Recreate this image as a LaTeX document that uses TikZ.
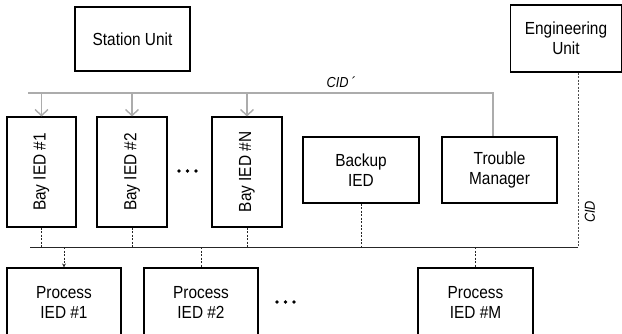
\documentclass[tikz,border=0pt]{standalone}
\usepackage{fontspec}
\setmainfont{Liberation Sans}
\newfontfamily\boxfont[FakeStretch=0.88]{Liberation Sans}
\usetikzlibrary{arrows.meta}
\begin{document}
\begin{tikzpicture}[x=1pt,y=-1pt,
  box/.style={draw=black,line width=1.1pt,inner sep=0pt,align=center,
    font=\boxfont\fontsize{17.5}{20}\selectfont},
  cidbus/.style={draw=gray!65,line width=2pt},
  cidarrow/.style={draw=gray!65,line width=1.6pt,-{Straight Barb[length=6pt,width=13pt,line width=1.4pt]}},
  lanbus/.style={draw=black!85,line width=0.8pt},
  drop/.style={draw=black!85,line width=0.8pt,dash pattern=on 2pt off 1.5pt},
  lbl/.style={font=\boxfont\fontsize{14.5}{16}\selectfont\itshape},
  dotmark/.style={circle,fill=black,inner sep=0pt,minimum size=3.6pt}]
\useasboundingbox (0,0) rectangle (622,333);
\clip (0,0) rectangle (622,333);
% nodes
\node[box,minimum width=115pt,minimum height=64pt] (station) at (132.5,39) {Station Unit};
\node[box,minimum width=111pt,minimum height=67pt] (eng) at (566,38.5) {Engineering\\Unit};
\node[box,minimum width=69pt,minimum height=110pt] (bay1) at (41.5,172) {\rotatebox{90}{Bay IED \#1}};
\node[box,minimum width=70pt,minimum height=110pt] (bay2) at (132,172) {\rotatebox{90}{Bay IED \#2}};
\node[box,minimum width=70pt,minimum height=110pt] (bayN) at (247,172) {\rotatebox{90}{Bay IED \#N}};
\node[box,minimum width=116pt,minimum height=66pt] (backup) at (361,170) {Backup\\IED};
\node[box,minimum width=115pt,minimum height=66pt] (trouble) at (499.5,170) {Trouble\\Manager};
\node[box,minimum width=114pt,minimum height=68pt] (p1) at (64,302) {Process\\IED \#1};
\node[box,minimum width=114pt,minimum height=68pt] (p2) at (201,302) {Process\\IED \#2};
\node[box,minimum width=115pt,minimum height=68pt] (pM) at (475.5,302) {Process\\IED \#M};
% dots
\node[dotmark] (d1) at (179,171) {};
\node[dotmark] (d2) at (187.5,171) {};
\node[dotmark] (d3) at (196,171) {};
\node[dotmark] (e1) at (277,302) {};
\node[dotmark] (e2) at (285.5,302) {};
\node[dotmark] (e3) at (294,302) {};
% CID' bus
\coordinate (cidL) at (28,93);
\coordinate (tmtop) at ([xshift=-6.5pt]trouble.north);
\draw[cidbus] (cidL) -- (tmtop |- cidL) -- (tmtop);
\draw[cidarrow] (bay1.north |- cidL) -- (bay1.north);
\draw[cidarrow] (bay2.north |- cidL) -- (bay2.north);
\draw[cidarrow] (bayN.north |- cidL) -- (bayN.north);
\node[lbl] (cidp) at (341,82) {CID\,´};
% lower bus
\coordinate (busL) at (30,247);
\coordinate (busR) at (578,247);
\draw[lanbus] (busL) -- (busR);
\draw[drop,draw=black!70,line width=0.7pt] (eng.south -| busR) -- (busR);
\node[lbl,rotate=90] (cid) at (590,212) {CID};
\draw[drop] (bay1.south) -- (bay1.south |- busL);
\draw[drop] (bay2.south) -- (bay2.south |- busL);
\draw[drop] (bayN.south) -- (bayN.south |- busL);
\draw[drop] (backup.south) -- (backup.south |- busL);
\draw[drop,-{Stealth[length=4pt,width=4pt]}] (p1.north |- busL) -- (p1.north);
\draw[drop] (p2.north |- busL) -- (p2.north);
\draw[drop] (pM.north |- busL) -- (pM.north);
\end{tikzpicture}
\end{document}
